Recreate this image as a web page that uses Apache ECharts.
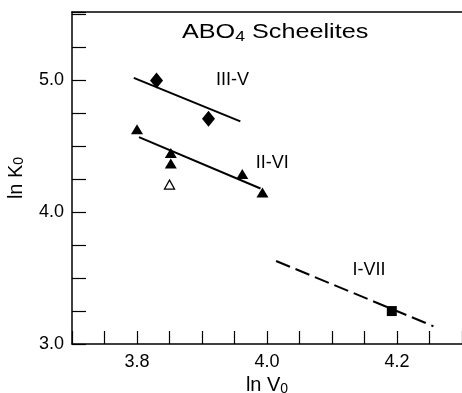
<!DOCTYPE html>
<html>
<head>
<meta charset="utf-8">
<script src="https://cdn.jsdelivr.net/npm/echarts@6/dist/echarts.min.js"></script>
<style>html,body{margin:0;padding:0;background:#fff}#c{width:462px;height:393px}</style>
</head>
<body>
<div id="c"></div>
<script>
// ---- data ----
const xTickLabels = [3.8, 4.0, 4.2];
const yTickLabels = [3.0, 4.0, 5.0];
const diamondsIIIV = [[3.830, 5.00], [3.910, 4.71]];
const trianglesIIVI = [[3.800, 4.63], [3.852, 4.45], [3.852, 4.37], [3.962, 4.29], [3.993, 4.15]];
const openTriangle = [[3.850, 4.21]];
const squareIVII = [[4.192, 3.25]];
const fitIIIV = [[3.795, 5.02], [3.959, 4.69]];
const fitIIVI = [[3.803, 4.57], [3.990, 4.18]];
const fitIVII = [[4.014, 3.63], [4.256, 3.135]];
const groupLabels = ['III-V', 'II-VI', 'I-VII'];
const groupLabelPos = [[3.947, 5.00], [4.008, 4.37], [4.157, 3.56]];

const FONT = '"Liberation Sans", Arial, Helvetica, sans-serif';
const chart = echarts.init(document.getElementById('c'), null, {renderer: 'canvas'});

function near(v, arr) { return arr.some(a => Math.abs(a - v) < 1e-6); }

const option = {
  animation: false,
  backgroundColor: '#fff',
  grid: {left: 72, right: 0, top: 12, bottom: 49, containLabel: false, outerBoundsMode: 'none'},
  xAxis: [{
    type: 'value', min: 3.7, max: 4.3, interval: 0.05,
    axisLine: {show: true, onZero: false, lineStyle: {color: '#000', width: 1.5}},
    axisTick: {show: true, inside: true, length: 13, lineStyle: {color: '#000', width: 1.2}},
    splitLine: {show: false},
    axisLabel: {
      color: '#000', fontSize: 18, fontFamily: FONT, margin: 9,
      formatter: v => near(v, xTickLabels) ? v.toFixed(1) : ''
    },
    name: 'ln {s|V}{sub|0}', nameLocation: 'middle', nameGap: 31,
    nameTextStyle: {color: '#000', fontSize: 20, fontFamily: FONT,
      rich: {s: {fontSize: 20, fontFamily: FONT, color: '#000'},
             sub: {fontSize: 14, fontFamily: FONT, color: '#000', verticalAlign: 'bottom'}}}
  }, {
    type: 'value', min: 3.7, max: 4.3, position: 'top',
    axisLine: {show: true, onZero: false, lineStyle: {color: '#000', width: 1.5}},
    axisTick: {show: false}, axisLabel: {show: false}, splitLine: {show: false}
  }],
  yAxis: {
    type: 'value', min: 3.0, max: 5.52, interval: 0.25,
    axisLine: {show: true, onZero: false, lineStyle: {color: '#000', width: 1.5}},
    axisTick: {show: true, inside: true, length: 14, lineStyle: {color: '#000', width: 1.2}},
    splitLine: {show: false},
    axisLabel: {
      color: '#000', fontSize: 18, fontFamily: FONT, margin: 8,
      formatter: v => near(v, yTickLabels) ? v.toFixed(1) : ''
    },
    name: 'ln {s|K}{sub|0}', nameLocation: 'middle', nameGap: 46, nameRotate: 90,
    nameTextStyle: {color: '#000', fontSize: 20, fontFamily: FONT,
      rich: {s: {fontSize: 20, fontFamily: FONT, color: '#000'},
             sub: {fontSize: 14, fontFamily: FONT, color: '#000', verticalAlign: 'bottom'}}}
  },
  graphic: [{
    type: 'text', x: 182, y: 20, scaleX: 1.26,
    style: {
      text: 'ABO{sub|4} Scheelites', fill: '#000', fontSize: 20, fontFamily: FONT,
      rich: {sub: {fontSize: 14, fontFamily: FONT, fill: '#000', padding: [10, 0, 0, 0]}}
    }
  }],
  series: [
    {type: 'line', data: fitIIIV, symbol: 'none', lineStyle: {color: '#000', width: 2}, z: 2},
    {type: 'line', data: fitIIVI, symbol: 'none', lineStyle: {color: '#000', width: 2}, z: 2},
    {type: 'line', data: fitIVII, symbol: 'none', lineStyle: {color: '#000', width: 2, type: [15, 6]}, z: 2},
    {type: 'scatter', data: diamondsIIIV, symbol: 'diamond', symbolSize: [13, 16],
     itemStyle: {color: '#000', opacity: 1, borderWidth: 0}, z: 3},
    {type: 'scatter', data: trianglesIIVI, symbol: 'triangle', symbolSize: [12, 10],
     itemStyle: {color: '#000', opacity: 1}, z: 3},
    {type: 'scatter', data: openTriangle, symbol: 'triangle', symbolSize: [10, 9],
     itemStyle: {color: '#fff', borderColor: '#000', borderWidth: 1.3, opacity: 1}, z: 3},
    {type: 'scatter', data: squareIVII, symbol: 'rect', symbolSize: 10,
     itemStyle: {color: '#000', opacity: 1}, z: 3},
    {type: 'scatter', symbolSize: 0, silent: true, itemStyle: {opacity: 1},
     data: groupLabelPos.map((p, i) => ({value: p, name: groupLabels[i]})),
     label: {show: true, position: 'inside', formatter: p => p.name,
             color: '#000', fontSize: 18, fontFamily: FONT}, z: 4}
  ]
};
chart.setOption(option);
</script>
</body>
</html>
